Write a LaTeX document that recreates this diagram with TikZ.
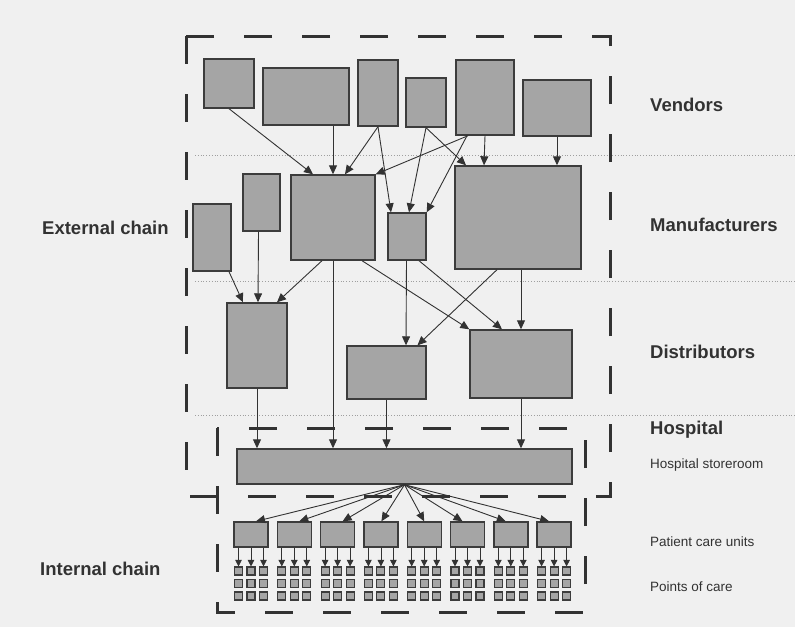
\documentclass[tikz,border=0pt]{standalone}
\usepackage{fontspec}
\setmainfont{Liberation Sans}
\usetikzlibrary{arrows.meta,fit,calc}
\definecolor{bg}{RGB}{240,240,240}
\definecolor{boxfill}{RGB}{165,165,165}
\definecolor{boxline}{RGB}{60,60,60}
\definecolor{ink}{RGB}{50,50,50}
\begin{document}
\begin{tikzpicture}[x=1pt,y=-1pt,
 box/.style={draw=boxline,fill=boxfill,line width=1.4pt,inner sep=0pt},
 ptbox/.style={draw=boxline,fill=boxfill,line width=1.1pt,inner sep=0pt,minimum size=8pt},
 arr/.style={draw=ink,line width=0.9pt,-{Triangle[length=9pt,width=8pt]}},
 sarr/.style={draw=ink,line width=0.8pt,-{Triangle[length=6.5pt,width=6.5pt]}},
 bigdash/.style={draw=ink,line width=3pt,dash pattern=on 28pt off 30pt},
 sep/.style={draw=gray!75,line width=0.8pt,dotted},
 lab/.style={anchor=west,text=ink,font=\fontsize{18.5}{22}\selectfont\bfseries,inner sep=0pt},
 slab/.style={anchor=west,text=ink,font=\fontsize{13.5}{16}\selectfont,inner sep=0pt}]
\fill[bg] (0,0) rectangle (795,627);
\useasboundingbox (0,0) rectangle (795,627);

% separators
\draw[sep] (195,155) -- (795,155);
\draw[sep] (195,281) -- (795,281);
\draw[sep] (195,415) -- (795,415);

% dashed regions
\draw[bigdash] (186,36) rectangle (610,496);
\draw[bigdash] (217,428) rectangle (585,612);

% vendors
\node[box,fit={(204,59)(254,108)}] (V1) {};
\node[box,fit={(263,68)(349,125)}] (V2) {};
\node[box,fit={(358,60)(398,126)}] (V3) {};
\node[box,fit={(406,78)(446,127)}] (V4) {};
\node[box,fit={(456,60)(514,135)}] (V5) {};
\node[box,fit={(523,80)(591,136)}] (V6) {};
% manufacturers
\node[box,fit={(193,204)(231,271)}] (M1) {};
\node[box,fit={(243,174)(280,231)}] (M2) {};
\node[box,fit={(291,175)(375,260)}] (M3) {};
\node[box,fit={(388,213)(426,260)}] (M4) {};
\node[box,fit={(455,166)(581,269)}] (M5) {};
% distributors
\node[box,fit={(227,303)(287,388)}] (D1) {};
\node[box,fit={(347,346)(426,399)}] (D2) {};
\node[box,fit={(470,330)(572,398)}] (D3) {};
% hospital storeroom
\node[box,fit={(237,449)(572,484)}] (H) {};

% vendors -> manufacturers
\draw[arr] (V1.south) -- ([xshift=-20pt]M3.north);
\draw[arr] ([xshift=27pt]V2.south) -- (M3.north);
\draw[arr] (V3.south) -- ([xshift=12pt]M3.north);
\draw[arr] (V3.south) -- ([xshift=-16pt]M4.north);
\draw[arr] (V4.south) -- ([xshift=2pt]M4.north);
\draw[arr] (V4.south) -- ([xshift=-52pt]M5.north);
\draw[arr] ([xshift=-17pt]V5.south) -- (M3.north east);
\draw[arr] ([xshift=-18pt]V5.south) -- (M4.north east);
\draw[arr] (V5.south) -- ([xshift=-34pt]M5.north);
\draw[arr] (V6.south) -- ([xshift=39pt]M5.north);

% manufacturers -> distributors / hospital
\draw[arr] ([xshift=17pt]M1.south) -- ([xshift=-14pt]D1.north);
\draw[arr] ([xshift=-3pt]M2.south) -- ([xshift=1pt]D1.north);
\draw[arr] ([xshift=-11pt]M3.south) -- ([xshift=20pt]D1.north);
\draw[arr] (M3.south) -- ([xshift=-71.5pt]H.north);
\draw[arr] ([xshift=29pt]M3.south) -- (D3.north west);
\draw[arr] ([xshift=-0.5pt]M4.south) -- ([xshift=19.5pt]D2.north);
\draw[arr] ([xshift=12pt]M4.south) -- ([xshift=-19pt]D3.north);
\draw[arr] ([xshift=-21pt]M5.south) -- ([xshift=31pt]D2.north);
\draw[arr] ([xshift=3pt]M5.south) -- (D3.north);

% distributors -> hospital
\draw[arr] (D1.south) -- ([xshift=-147.5pt]H.north);
\draw[arr] (D2.south) -- ([xshift=-18pt]H.north);
\draw[arr] (D3.south) -- ([xshift=116.5pt]H.north);

% patient care units and points of care
\foreach \i/\o in {1/5,2/5,3/5,4/0.5,5/0,6/-5,7/-5,8/-5} {
  \pgfmathsetmacro{\cx}{251+(\i-1)*43.3}
  \node[box,minimum width=34pt,minimum height=25pt] (U\i) at (\cx,534.5) {};
  \draw[arr] (H.south) -- ([xshift=\o pt]U\i.north);
  \foreach \c in {1,2,3} {
    \foreach \r in {1,2,3} {
      \node[ptbox] (P\i-\c-\r) at ({\cx+12.5*(\c-2)},{571+12.5*(\r-1)}) {};
    }
    \draw[sarr] (U\i.south -| P\i-\c-1) -- (P\i-\c-1.north);
  }
}

% labels
\node[lab] (lv) at (650,105) {Vendors};
\node[lab] (lm) at (650,225) {Manufacturers};
\node[lab] (ld) at (650,352) {Distributors};
\node[lab] (lh) at (650,430) {Hospital};
\node[slab] (ls) at (650,465) {Hospital storeroom};
\node[slab] (lu) at (650,542) {Patient care units};
\node[slab] (lp) at (650,587) {Points of care};
\node[lab] (le) at (42,228) {External chain};
\node[lab] (li) at (40,569) {Internal chain};
\end{tikzpicture}
\end{document}
